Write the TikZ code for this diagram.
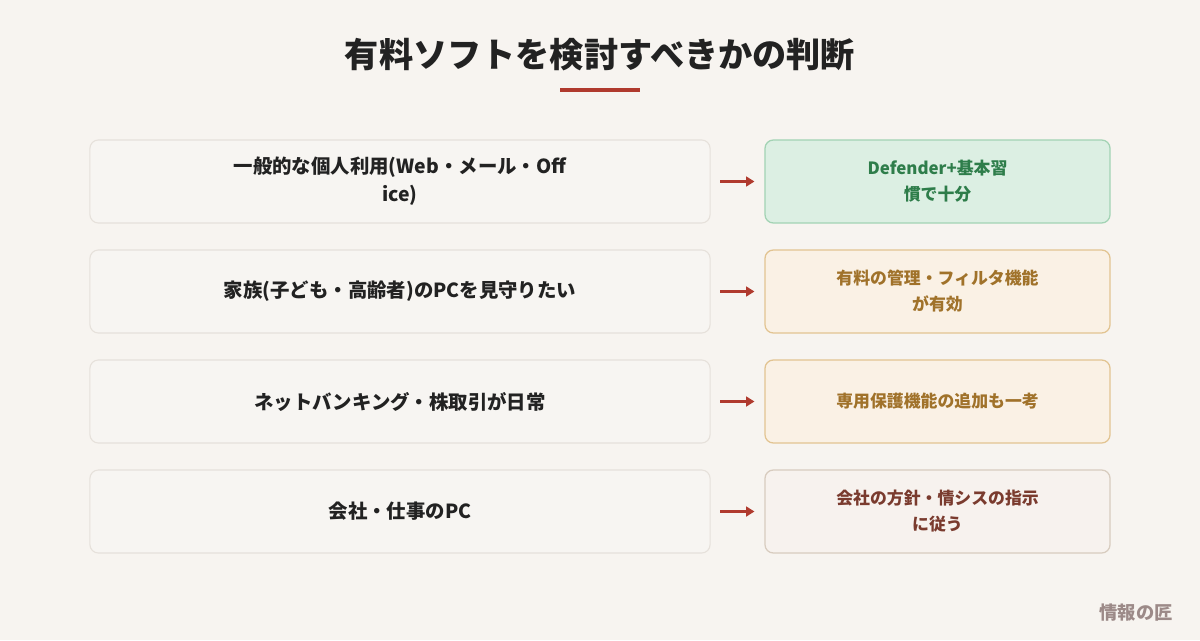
\documentclass[tikz,border=0pt]{standalone}
\usepackage{fontspec}
\setmainfont{Noto Sans CJK JP}
\definecolor{bgpaper}{HTML}{F7F4F0}
\definecolor{casefill}{HTML}{F7F5F2}
\definecolor{caseline}{HTML}{E6E1DB}
\definecolor{titleink}{HTML}{222222}
\definecolor{accentred}{HTML}{B03A2E}
\definecolor{okfill}{HTML}{DCEFE3}
\definecolor{okline}{HTML}{A3D3B4}
\definecolor{okink}{HTML}{2E7D4A}
\definecolor{paidfill}{HTML}{FAF1E5}
\definecolor{paidline}{HTML}{E2C492}
\definecolor{paidink}{HTML}{A0722A}
\definecolor{corpfill}{HTML}{F7F2EE}
\definecolor{corpline}{HTML}{D8CCBF}
\definecolor{corpink}{HTML}{7A3B2E}
\definecolor{markink}{HTML}{9C8A88}
\usepackage{tikz}
\usetikzlibrary{arrows.meta,positioning}

\begin{document}
\begin{tikzpicture}[x=0.025cm, y=-0.025cm,
  casebox/.style={draw=caseline, line width=0.8pt, fill=casefill, rounded corners=6pt,
    minimum width=15.5cm, minimum height=2.075cm, align=center,
    font=\fontsize{13.8}{20}\selectfont\bfseries, text=titleink},
  answerbox/.style={line width=0.9pt, rounded corners=6pt,
    minimum width=8.625cm, minimum height=2.075cm, align=center,
    font=\fontsize{12}{18.5}\selectfont\bfseries},
  okbox/.style={answerbox, draw=okline, fill=okfill, text=okink},
  paidbox/.style={answerbox, draw=paidline, fill=paidfill, text=paidink},
  corpbox/.style={answerbox, draw=corpline, fill=corpfill, text=corpink},
  leadto/.style={accentred, line width=2pt, -{Triangle[length=6pt,width=7pt]}}]

% background and frame
\fill[bgpaper] (0,0) rectangle (1200,640);
\useasboundingbox (0,0) rectangle (1200,640);

% title
\node[font=\fontsize{24.3}{28}\selectfont\bfseries, text=titleink] (title) at (600,55)
  {有料ソフトを検討すべきかの判断};
\draw[accentred, line width=3pt] (560,90) -- (640,90);

% situations
\node[casebox] (s1) at (400,181.5) {一般的な個人利用(Web・メール・Off\\ice)};
\node[casebox] (s2) at (400,291.5) {家族(子ども・高齢者)のPCを見守りたい};
\node[casebox] (s3) at (400,401.5) {ネットバンキング・株取引が日常};
\node[casebox] (s4) at (400,511.5) {会社・仕事のPC};

% answers
\node[okbox]   (a1) at (937.5,181.5) {Defender+基本習\\慣で十分};
\node[paidbox] (a2) at (937.5,291.5) {有料の管理・フィルタ機能\\が有効};
\node[paidbox] (a3) at (937.5,401.5) {専用保護機能の追加も一考};
\node[corpbox] (a4) at (937.5,511.5) {会社の方針・情シスの指示\\に従う};

% arrows
\draw[leadto] ([xshift=7pt]s1.east) -- ([xshift=-7pt]a1.west);
\draw[leadto] ([xshift=7pt]s2.east) -- ([xshift=-7pt]a2.west);
\draw[leadto] ([xshift=7pt]s3.east) -- ([xshift=-7pt]a3.west);
\draw[leadto] ([xshift=7pt]s4.east) -- ([xshift=-7pt]a4.west);

% signature
\node[font=\fontsize{13}{15}\selectfont\bfseries, text=markink] (mark) at (1136,613) {情報の匠};

\end{tikzpicture}
\end{document}
